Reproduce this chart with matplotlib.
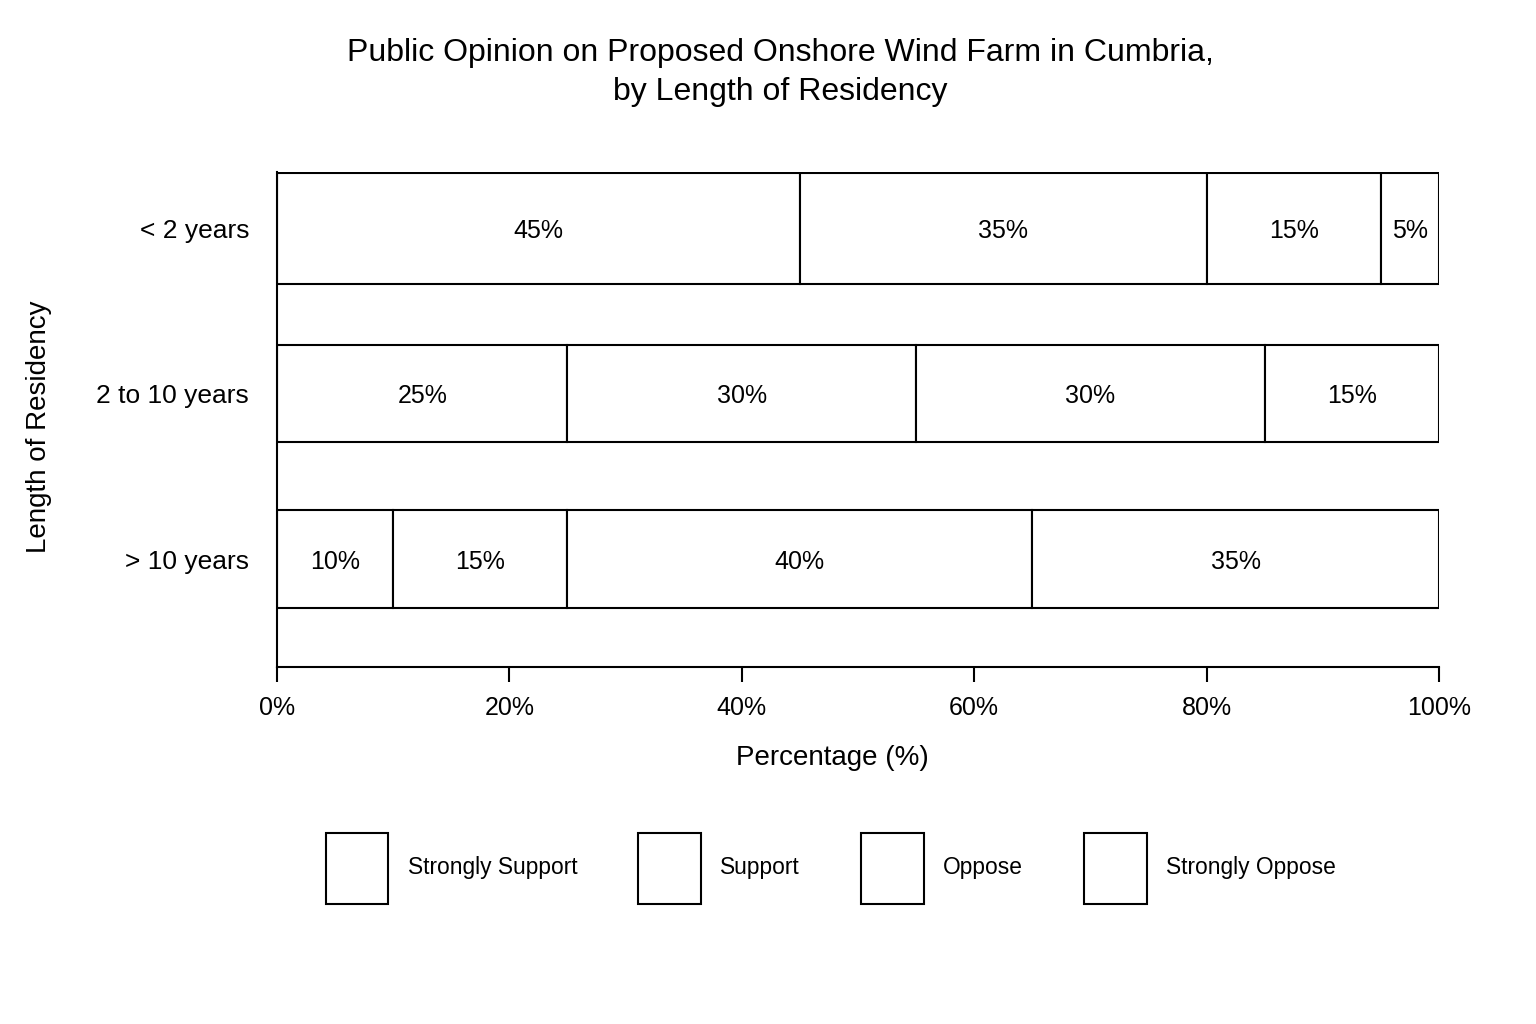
import matplotlib.pyplot as plt
from matplotlib.patches import Patch

plt.rcParams['font.family'] = ['Liberation Sans', 'DejaVu Sans']

# data
groups = ["> 10 years", "2 to 10 years", "< 2 years"]
opinions = ["Strongly Support", "Support", "Oppose", "Strongly Oppose"]
strongly_support = [10, 25, 45]
support = [15, 30, 35]
oppose = [40, 30, 15]
strongly_oppose = [35, 15, 5]
bar_heights = [0.59, 0.59, 0.67]

series = [strongly_support, support, oppose, strongly_oppose]

fig = plt.figure(figsize=(15.36, 10.24), dpi=100)
ax = fig.add_axes([0.1803, 0.349, 0.7565, 0.483])

ypos = list(range(len(groups)))
left = [0] * len(groups)
for vals in series:
    bars = ax.barh(ypos, vals, left=left, height=bar_heights,
                   color="white", edgecolor="black", linewidth=1.5)
    for b, v in zip(bars, vals):
        ax.text(b.get_x() + b.get_width() / 2, b.get_y() + b.get_height() / 2 - 0.015,
                f"{v}%", ha="center", va="center", fontsize=18)
    left = [l + v for l, v in zip(left, vals)]

ax.set_xlim(0, 100)
ax.set_ylim(-0.65, 2.34)
ax.set_xticks([0, 20, 40, 60, 80, 100])
ax.set_xticklabels(["0%", "20%", "40%", "60%", "80%", "100%"], fontsize=18)
ax.set_yticks(ypos)
ax.set_yticklabels(groups, fontsize=19)
ax.tick_params(axis="y", length=0, pad=20)
ax.tick_params(axis="x", length=11, width=1.5, pad=10)
for s in ["top", "right"]:
    ax.spines[s].set_visible(False)
for s in ["left", "bottom"]:
    ax.spines[s].set_linewidth(1.5)

ax.set_xlabel("Percentage (%)", fontsize=20)
ax.xaxis.set_label_coords(0.478, -0.158)
ax.set_ylabel("Length of Residency", fontsize=20)
ax.yaxis.set_label_coords(-0.194, 0.484)

fig.suptitle("Public Opinion on Proposed Onshore Wind Farm in Cumbria,\nby Length of Residency",
             x=0.508, y=0.963, fontsize=23, linespacing=1.4)

handles = [Patch(facecolor="white", edgecolor="black", linewidth=1.5, label=o) for o in opinions]
fig.legend(handles=handles, loc="center", bbox_to_anchor=(0.541, 0.152), ncol=4,
           frameon=False, fontsize=16.4, handlelength=2.75, handleheight=4.4,
           handletextpad=0.85, columnspacing=2.68)

fig.savefig("out.png", dpi=100, facecolor="white")
